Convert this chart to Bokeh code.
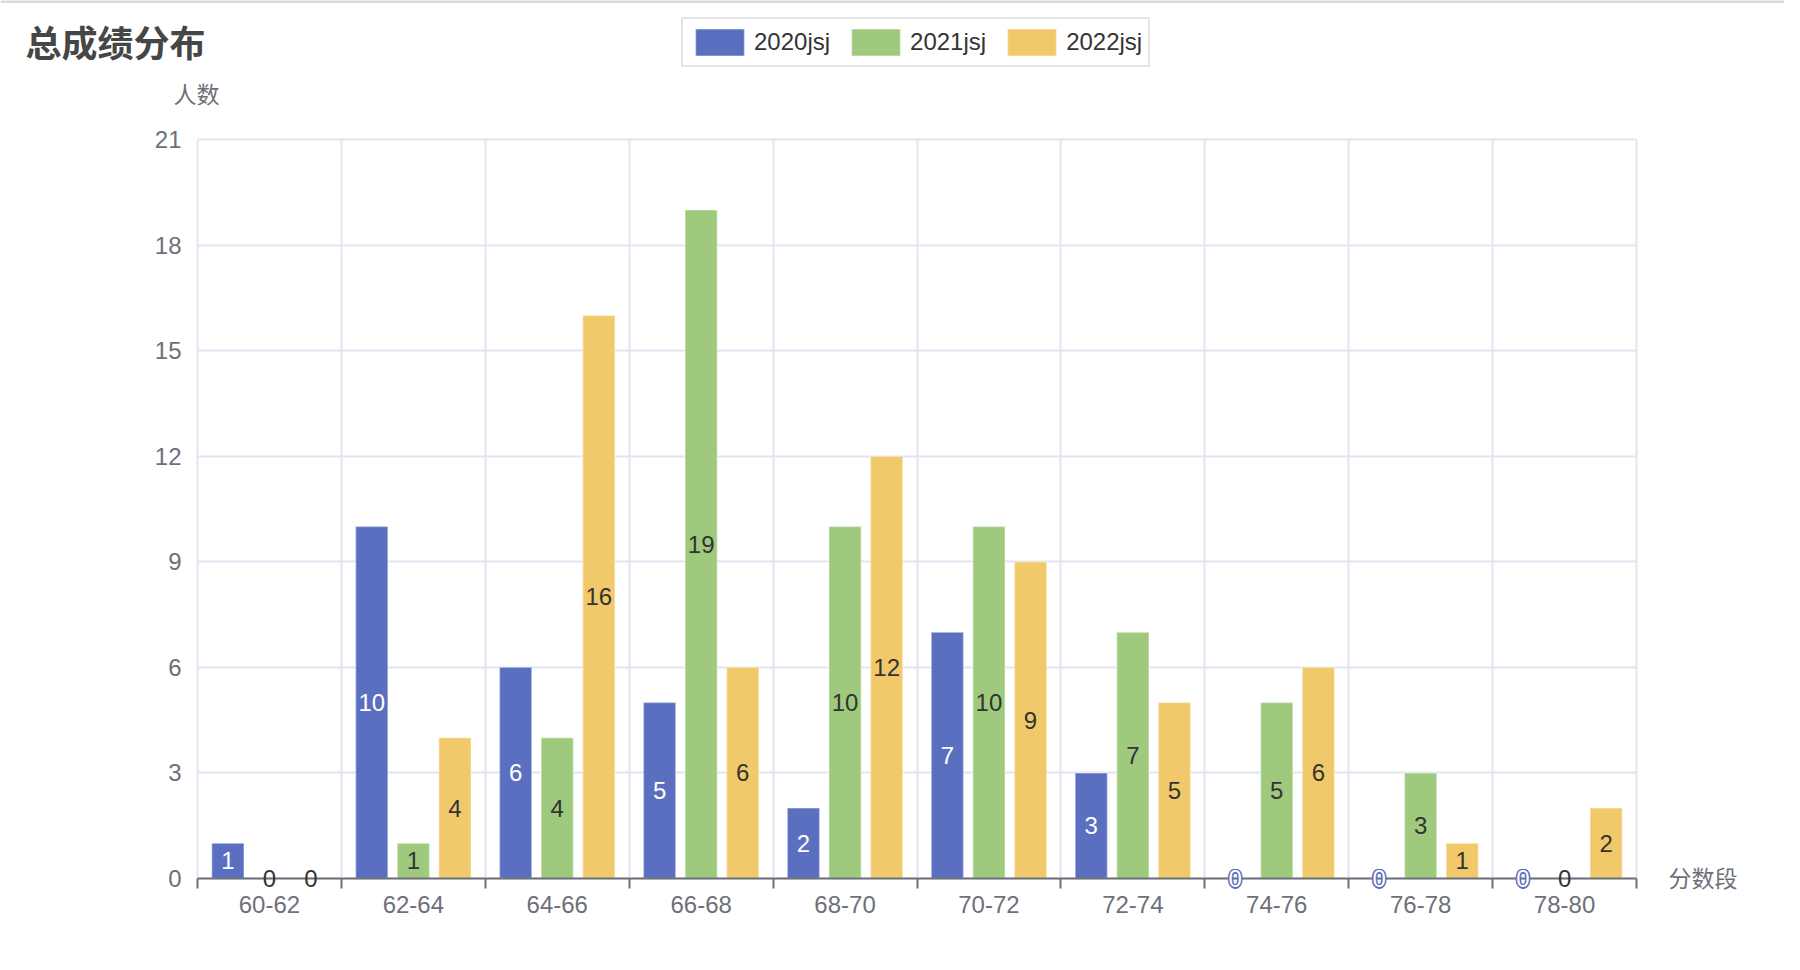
from bokeh.plotting import figure
from bokeh.models import (Range1d, FixedTicker, ColumnDataSource, LabelSet, Label,
                          Legend, LegendItem, Span, Grid)
from bokeh.core.properties import value
from bokeh.embed import file_html
from bokeh.resources import INLINE

# ---------------- data ----------------
categories = ["60-62", "62-64", "64-66", "66-68", "68-70",
              "70-72", "72-74", "74-76", "76-78", "78-80"]
series_names = ["2020jsj", "2021jsj", "2022jsj"]
v2020 = [1, 10, 6, 5, 2, 7, 3, 0, 0, 0]
v2021 = [0, 1, 4, 19, 10, 10, 7, 5, 3, 0]
v2022 = [0, 4, 16, 6, 12, 9, 5, 6, 1, 2]
y_ticks = [0, 3, 6, 9, 12, 15, 18, 21]
title_text = "总成绩分布"
y_name = "人数"
x_name = "分数段"

# ---------------- style / geometry ----------------
colors = ["#5B6FC0", "#9FCA7E", "#F2C96A"]
LATIN = "Liberation Sans"
CJK = "Noto Sans CJK SC"
AXIS_GRAY = "#6E7079"
GRID = "#E0E6F1"

W, H = 1784, 950
N = len(categories)
Y_TOP = y_ticks[-1]
# pixel geometry of the plotting area (canvas pixels)
FL, FR, FT, FB = 197, 1636, 139, 878
PX = (FR - FL) / N          # px per category
PY = (FB - FT) / Y_TOP      # px per count

def dx(px):
    return (px - FL) / PX

def dy(py):
    return (FB - py) / PY

p = figure(width=W, height=H, output_backend="svg", toolbar_location=None,
           x_range=Range1d(dx(0), dx(W)), y_range=Range1d(dy(H), dy(0)),
           min_border=0, min_border_left=0, min_border_right=0,
           min_border_top=0, min_border_bottom=0)
p.outline_line_color = None

# grid
has_cross = "cross_bounds" in Grid.properties()
p.xgrid.ticker = FixedTicker(ticks=list(range(N + 1)))
p.ygrid.ticker = FixedTicker(ticks=y_ticks)
if has_cross:
    for g in (p.xgrid, p.ygrid):
        g.grid_line_color = GRID
        g.grid_line_width = 2
    p.xgrid.cross_bounds = (0, Y_TOP)
    p.ygrid.cross_bounds = (0, N)
    p.xgrid.bounds = (0, N)
    p.ygrid.bounds = (0, Y_TOP)
else:
    p.xgrid.visible = False
    p.ygrid.visible = False
    gx = list(range(N + 1))
    p.segment(x0=gx, x1=gx, y0=[0] * len(gx), y1=[Y_TOP] * len(gx),
              line_color=GRID, line_width=2, level="underlay")
    p.segment(x0=[0] * len(y_ticks), x1=[N] * len(y_ticks), y0=y_ticks, y1=y_ticks,
              line_color=GRID, line_width=2, level="underlay")

# x axis (through y = 0)
centers = [i + 0.5 for i in range(N)]
xa = p.xaxis[0]
xa.fixed_location = 0
xa.bounds = (0, N)
xa.ticker = FixedTicker(ticks=centers, minor_ticks=list(range(N + 1)))
xa.major_label_overrides = {c: name for c, name in zip(centers, categories)}
xa.axis_line_color = AXIS_GRAY
xa.axis_line_width = 2
xa.major_tick_line_color = None
xa.major_tick_out = 0
xa.major_tick_in = 0
xa.minor_tick_line_color = AXIS_GRAY
xa.minor_tick_line_width = 2
xa.minor_tick_out = 10
xa.minor_tick_in = 0
xa.major_label_standoff = 7
xa.major_label_text_font = LATIN
xa.major_label_text_font_size = "24px"
xa.major_label_text_color = AXIS_GRAY

# y axis (through x = 0)
ya = p.yaxis[0]
ya.fixed_location = 0
ya.bounds = (0, Y_TOP)
ya.ticker = FixedTicker(ticks=y_ticks)
ya.axis_line_color = None
ya.major_tick_line_color = None
ya.minor_tick_line_color = None
ya.major_tick_out = 0
ya.major_tick_in = 0
ya.major_label_standoff = 16
ya.major_label_text_font = LATIN
ya.major_label_text_font_size = "24px"
ya.major_label_text_color = AXIS_GRAY

# bars + value labels
bar_w = 0.224
offsets = [-0.289, 0.0, 0.289]
all_series = [v2020, v2021, v2022]
halo = [(-1.5, 0), (1.5, 0), (0, -1.5), (0, 1.5),
        (-1.1, -1.1), (1.1, -1.1), (-1.1, 1.1), (1.1, 1.1)]
legend_items = []
for k, (name, vals) in enumerate(zip(series_names, all_series)):
    xs = [c + offsets[k] for c in centers]
    src = ColumnDataSource(dict(x=xs, top=vals, mid=[v / 2 for v in vals],
                                txt=[str(v) for v in vals]))
    r = p.vbar(x="x", top="top", bottom=0, width=bar_w, source=src,
               fill_color=colors[k], line_color="#FFFFFF", line_alpha=0.35,
               line_width=1.5)
    legend_items.append(LegendItem(label=name, renderers=[r]))
    common = dict(x="x", y="mid", text="txt", source=src,
                  text_align="center", text_baseline="middle",
                  text_font=value(LATIN), text_font_size=value("24px"))
    if k == 0:
        # halo in the series colour, then white text on top
        for ox, oy in halo:
            p.add_layout(LabelSet(text_color=colors[k], x_offset=ox, y_offset=oy, **common))
        p.add_layout(LabelSet(text_color="#FFFFFF", **common))
    else:
        p.add_layout(LabelSet(text_color="#333333", **common))

legend = Legend(items=legend_items, orientation="horizontal",
                location=(681, H - 67),
                glyph_width=61, glyph_height=34, label_standoff=4, spacing=15,
                padding=6, margin=0, border_line_color="#CCCCCC",
                border_line_width=2, background_fill_alpha=1,
                label_text_font=LATIN, label_text_font_size="24px",
                label_text_color="#333333", label_height=34)
p.add_layout(legend)

# title and axis names
p.add_layout(Label(x=dx(25), y=dy(40.5), text=title_text, text_font=CJK,
                   text_font_size="36px", text_font_style="bold",
                   text_color="#464646", text_align="left", text_baseline="middle"))
p.add_layout(Label(x=dx(196), y=dy(92), text=y_name, text_font=CJK,
                   text_font_size="23px", text_color=AXIS_GRAY,
                   text_align="center", text_baseline="middle"))
p.add_layout(Label(x=dx(1668), y=dy(876), text=x_name, text_font=CJK,
                   text_font_size="23px", text_color=AXIS_GRAY,
                   text_align="left", text_baseline="middle"))
p.add_layout(Span(location=dy(1), dimension="width", line_color="#DADADA", line_width=3))

open("out.html", "w").write(file_html(p, INLINE))
